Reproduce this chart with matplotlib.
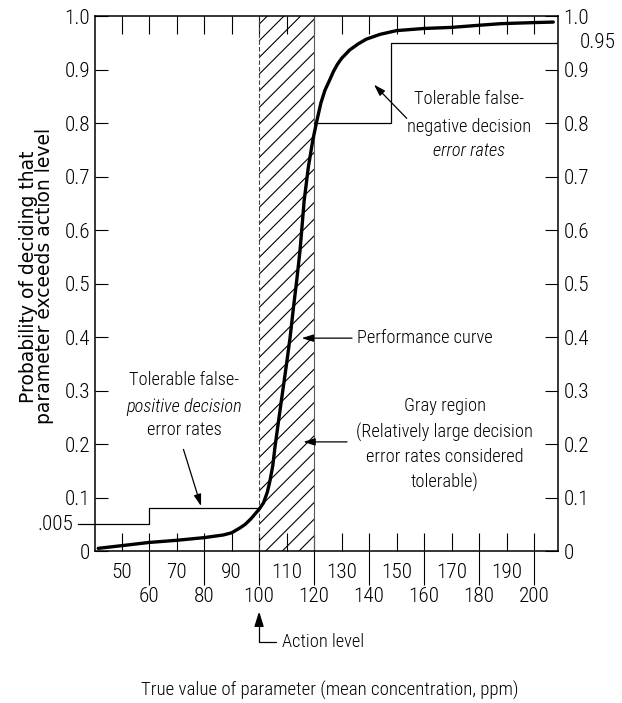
import numpy as np
import matplotlib.pyplot as plt
import matplotlib.transforms as mtransforms
from matplotlib.ticker import FixedLocator, FixedFormatter
from matplotlib import font_manager

# pick a condensed face if one is installed, otherwise Liberation Sans at a smaller size
narrow = None
for fam in ['Roboto Condensed', 'Liberation Sans Narrow', 'Open Sans Condensed']:
    try:
        font_manager.findfont(font_manager.FontProperties(family=fam), fallback_to_default=False)
        narrow = fam
        break
    except ValueError:
        pass

if narrow:
    plt.rcParams['font.family'] = [narrow, 'DejaVu Sans']
    TICK, TXT = 15.3, 13.2
else:
    plt.rcParams['font.family'] = ['Liberation Sans', 'DejaVu Sans']
    TICK, TXT = 13.5, 11.5
plt.rcParams['font.weight'] = 'light'
plt.rcParams['hatch.linewidth'] = 0.8

# performance curve
curve_x = [41.5, 50, 60, 70, 80, 87, 90, 93, 95, 97, 99, 100, 101.6, 103, 104, 105,
           105.8, 107, 108.3, 110, 111.3, 112.5, 113.7, 114.9, 116.4, 117.9, 119.5,
           121, 122.5, 124, 125.8, 127, 128.5, 130, 133, 136, 139, 144, 150, 160, 170,
           180, 188, 200, 207]
curve_y = [0.005, 0.010, 0.016, 0.020, 0.025, 0.030, 0.034, 0.043, 0.050, 0.060,
           0.072, 0.078, 0.090, 0.110, 0.132, 0.160, 0.195, 0.240, 0.288, 0.350,
           0.400, 0.455, 0.506, 0.562, 0.655, 0.717, 0.767, 0.804, 0.838, 0.862,
           0.882, 0.896, 0.910, 0.921, 0.937, 0.948, 0.957, 0.966, 0.973, 0.977,
           0.979, 0.983, 0.986, 0.988, 0.989]

# tolerable decision error limits (step functions)
fp_x = [34, 60, 100]
fp_y = [0.05, 0.08, 0.08]
fn_x = [120, 148, 208.7]
fn_y = [0.80, 0.95, 0.95]

gray_lo, gray_hi = 100, 120
action_level = 100

x_major = [60, 80, 100, 120, 140, 160, 180, 200]
x_minor = [50, 60, 70, 80, 90, 100, 110, 120, 130, 140, 150, 160, 170, 180, 190, 200]
y_ticks = [0, 0.1, 0.2, 0.3, 0.4, 0.5, 0.6, 0.7, 0.8, 0.9, 1.0]
y_labels = ['0', '0.1', '0.2', '0.3', '0.4', '0.5', '0.6', '0.7', '0.8', '0.9', '1.0']

fig = plt.figure(figsize=(6.22, 7.03), dpi=100)
ax = fig.add_axes([0.1535, 0.2162, 0.897 - 0.1535, 0.977 - 0.2162])

# gray region
ax.axvspan(gray_lo, gray_hi, facecolor='none', edgecolor='black', hatch='//', lw=0)
ax.axvline(gray_lo, color='0.25', lw=0.8, ls=(0, (4, 2)))
ax.axvline(gray_hi, color='0.35', lw=0.8)

ax.step(fp_x, fp_y, where='post', color='black', lw=0.9, clip_on=False)
ax.step(fn_x, fn_y, where='post', color='black', lw=0.9)
ax.plot(curve_x, curve_y, color='black', lw=2.4, solid_capstyle='round')

ax.set_xlim(40.5, 208.7)
ax.set_ylim(0, 1.0)

# x ticks: two rows of labels
ax.xaxis.remove_overlapping_locs = False
ax.xaxis.set_major_locator(FixedLocator(x_major))
ax.xaxis.set_minor_locator(FixedLocator(x_minor))
ax.xaxis.set_minor_formatter(FixedFormatter([str(v) if v % 20 else '' for v in x_minor]))
ax.tick_params(axis='x', which='major', direction='out', length=24.5, width=0.8,
               pad=1.5, labelsize=TICK, top=False)
ax.tick_params(axis='x', which='minor', direction='in', length=13, width=0.8,
               pad=8.5, labelsize=TICK, top=True, bottom=True, labelbottom=True)

ax.set_yticks(y_ticks)
ax.set_yticklabels(y_labels)
ax.tick_params(axis='y', direction='in', length=9.5, width=0.8, pad=4,
               labelsize=TICK, left=True, right=True, labelright=True)

for sp in ax.spines.values():
    sp.set_linewidth(1.1)

# extra axis labels
ax.text(32.5, 0.05, '.005', ha='right', va='center', fontsize=TICK, clip_on=False)
trans = mtransforms.blended_transform_factory(ax.transAxes, ax.transData)
ax.text(1.047, 0.95, '0.95', transform=trans, ha='left', va='center', fontsize=TICK)

arrow = dict(arrowstyle='-|>,head_length=0.7,head_width=0.22', color='black',
             lw=0.9, shrinkA=0, shrinkB=0)

# false-negative annotation
ax.text(176.5, 0.846, 'Tolerable false-', ha='center', va='center', fontsize=TXT)
ax.text(176.5, 0.792, 'negative decision', ha='center', va='center', fontsize=TXT)
ax.text(176.5, 0.747, 'error rates', ha='center', va='center', fontsize=TXT, style='italic')
ax.annotate('', xy=(141.8, 0.872), xytext=(153.7, 0.809), arrowprops=arrow)

# false-positive annotation
ax.text(72.7, 0.320, 'Tolerable false-', ha='center', va='center', fontsize=TXT)
ax.text(72.7, 0.270, 'positive decision', ha='center', va='center', fontsize=TXT, style='italic')
ax.text(72.7, 0.226, 'error rates', ha='center', va='center', fontsize=TXT)
ax.annotate('', xy=(78.9, 0.084), xytext=(72.5, 0.190), arrowprops=arrow)

# performance curve / gray region labels
ax.text(135.6, 0.398, 'Performance curve', ha='left', va='center', fontsize=TXT)
ax.annotate('', xy=(115.5, 0.398), xytext=(133.8, 0.398), arrowprops=arrow)

gray_lines = ['Gray region', '(Relatively large decision', 'error rates considered', 'tolerable)']
for yy, s in zip([0.272, 0.221, 0.175, 0.128], gray_lines):
    ax.text(167.5, yy, s, ha='center', va='center', fontsize=TXT)
ax.annotate('', xy=(116.1, 0.204), xytext=(132, 0.204), arrowprops=arrow)

# action level
ax.annotate('Action level', xy=(action_level, -0.113), xytext=(108.3, -0.170),
            ha='left', va='center', fontsize=TXT, annotation_clip=False,
            arrowprops=dict(arrowstyle='-|>,head_length=0.7,head_width=0.22',
                            color='black', lw=0.9, shrinkA=2, shrinkB=0,
                            connectionstyle='angle,angleA=0,angleB=90,rad=0'))

fig.text(0.059, 0.607, 'Probability of deciding that\nparameter exceeds action level',
         rotation=90, ha='center', va='center', fontsize=13.5, linespacing=0.8,
         family='DejaVu Sans', fontweight='normal')
fig.text(330 / 622, 1 - 690 / 703, 'True value of parameter (mean concentration, ppm)',
         ha='center', va='center', fontsize=13.6)

fig.savefig('out.png', dpi=100)
